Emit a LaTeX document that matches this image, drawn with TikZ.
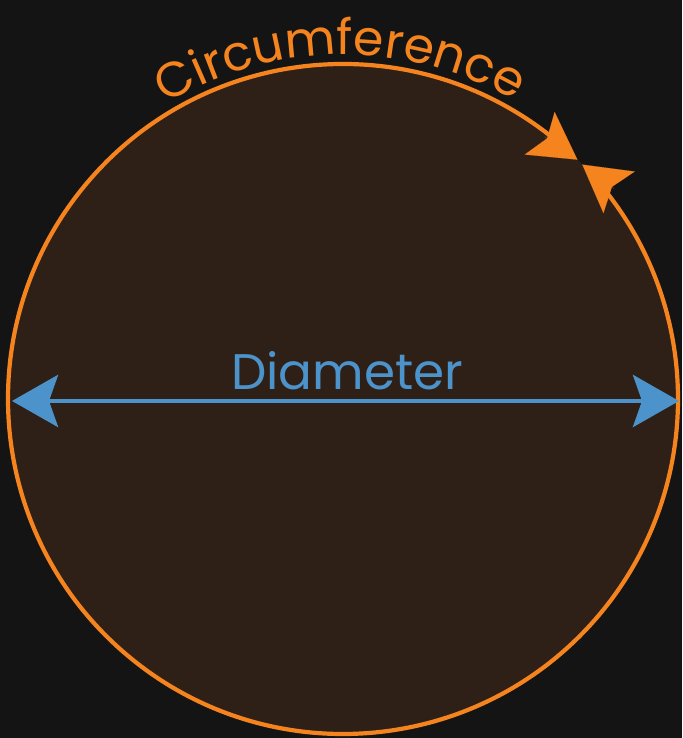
\documentclass[tikz,border=0pt]{standalone}
\usepackage{fontspec}
\setmainfont{Poppins}
\usepackage{xcolor}
\usetikzlibrary{arrows.meta,calc,decorations.text}

\definecolor{bgdark}{HTML}{141414}
\definecolor{discbrown}{HTML}{2E2017}
\definecolor{circorange}{HTML}{F5841F}
\definecolor{diablue}{HTML}{4C93CB}

\begin{document}
\begin{tikzpicture}[x=1pt, y=1pt,
circline/.style={draw=circorange, line width=4.2pt},
dialine/.style={draw=diablue, line width=4.8pt},
circtip/.style={draw=circorange, line width=0.1pt, -{Stealth[length=46pt, width=52pt, inset=9pt, fill=circorange]}},
dialabel/.style={text=diablue, font=\fontsize{50}{56}\selectfont, inner sep=0pt, anchor=base}]

% background and page size
\fill[bgdark] (0,0) rectangle (682,738);
\useasboundingbox (0,0) rectangle (682,738);

\coordinate (c) at (343,339);
\coordinate (dl) at (12,337);
\coordinate (dr) at (679,337);
\coordinate (tipa) at ($(c)+(45.6:335)$);
\coordinate (tipb) at ($(c)+(44.4:335)$);

% the disc
\fill[discbrown] (c) circle[radius=335];

% circumference, line ends under the two arrowheads
\draw[circline] ($(c)+(50:335)$) arc[start angle=50, end angle=400, radius=335];
\draw[circtip] ($(tipa)+(145:40)$) -- (tipa);
\draw[circtip] ($(tipb)+(-37:40)$) -- (tipb);

% diameter
\draw[dialine, {Stealth[length=46pt, width=52pt, inset=9pt]}-{Stealth[length=46pt, width=52pt, inset=9pt]}] (dl) -- (dr);
\node[dialabel] (diam) at (347,348) {Diameter};

% label along the arc
\path[decorate, decoration={text along path, text align=center,
  text color=circorange, text={|\fontsize{49}{54}\selectfont|Circumference}}]
  ($(c)+(152:344)$) arc[start angle=152, end angle=29, radius=344];

\end{tikzpicture}
\end{document}
